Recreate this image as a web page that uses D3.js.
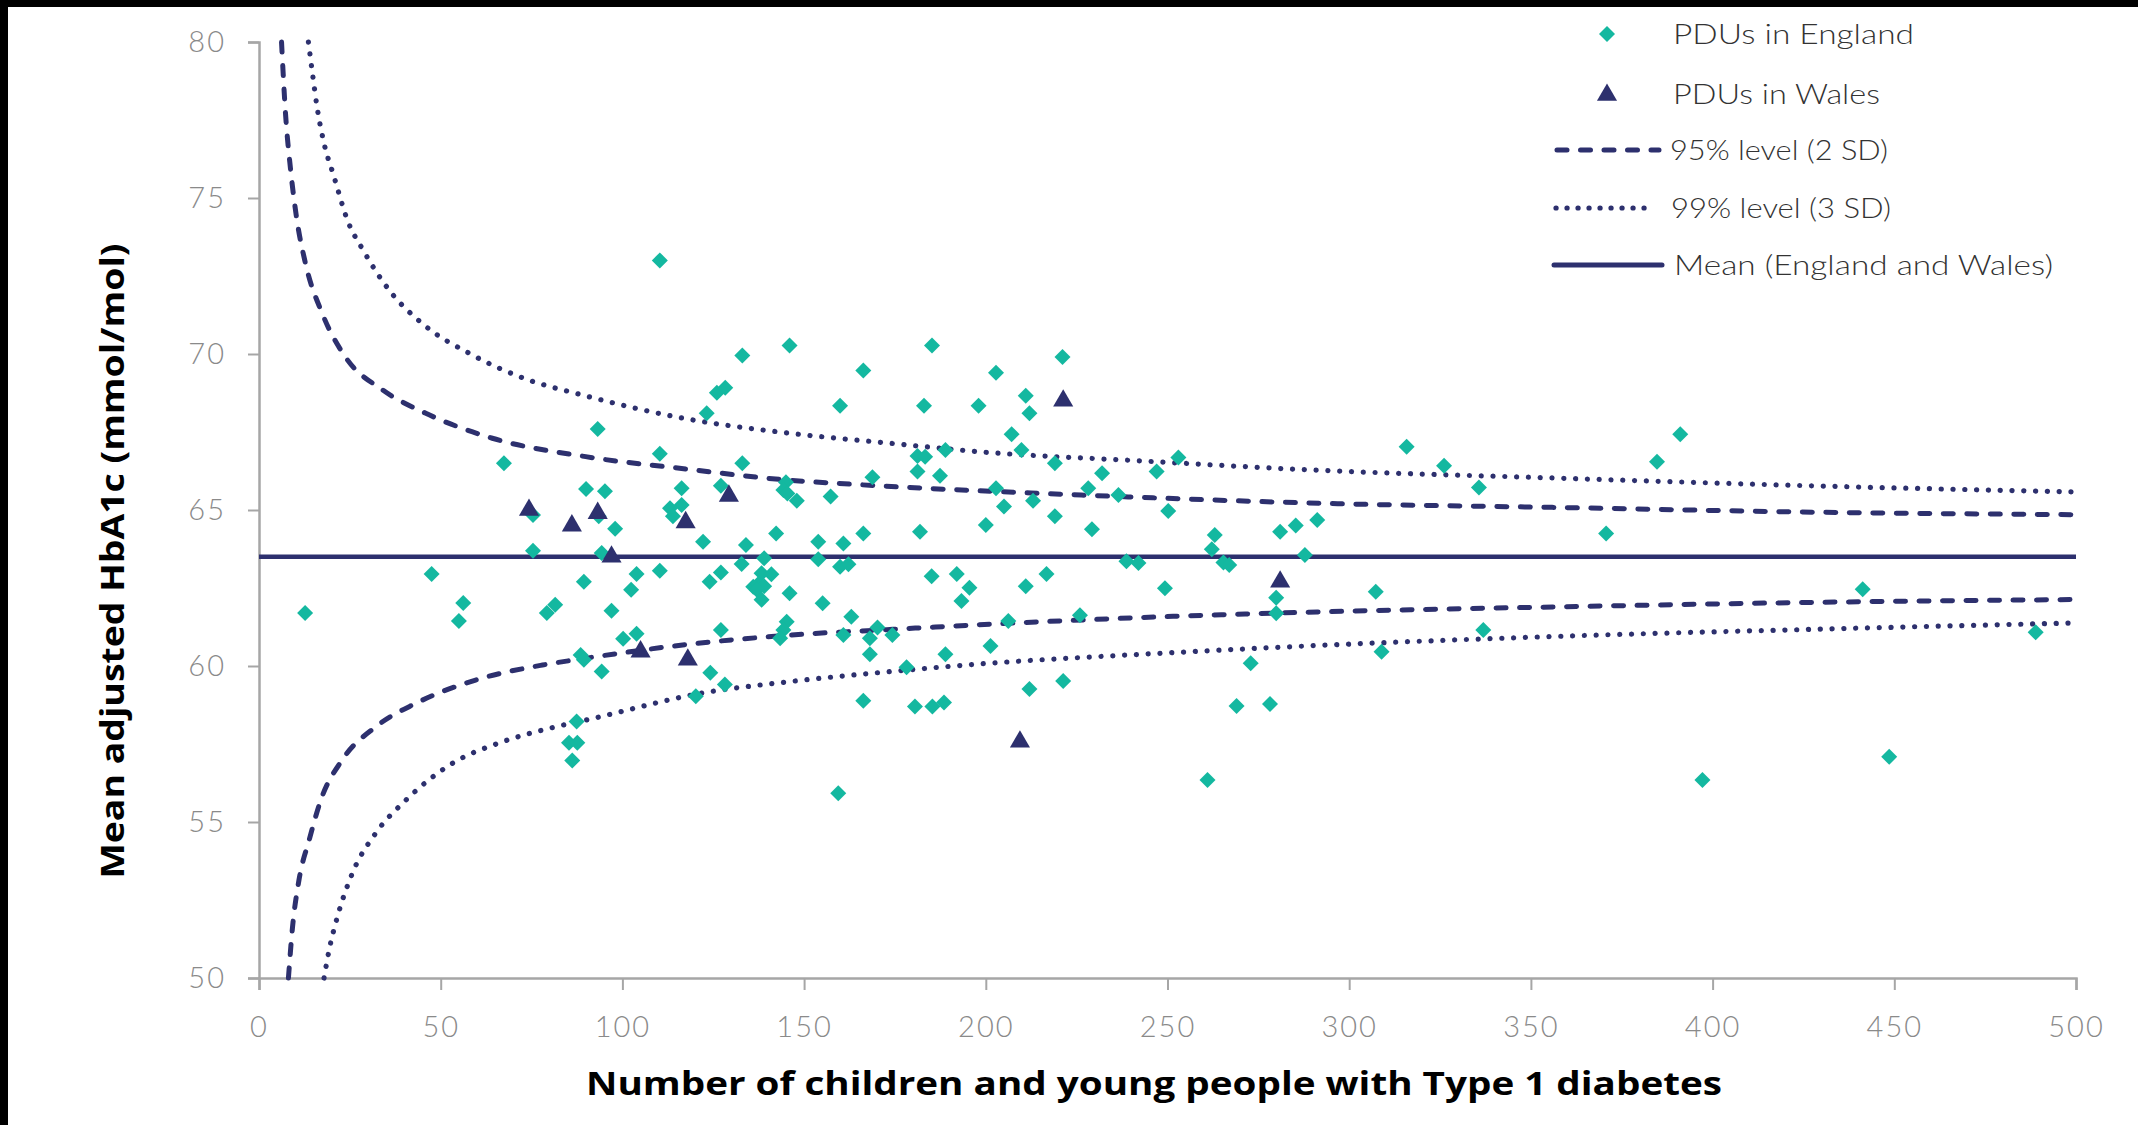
<!DOCTYPE html>
<html>
<head>
<meta charset="utf-8">
<script src="https://cdn.jsdelivr.net/npm/d3@7"></script>
<style>
  html, body { margin: 0; padding: 0; background: #ffffff; }
  svg { display: block; }
</style>
</head>
<body>
<svg id="chart" width="2138" height="1125"></svg>
<script>
// ---------------- DATA ----------------
const xTicks = [0, 50, 100, 150, 200, 250, 300, 350, 400, 450, 500];
const yTicks = [50, 55, 60, 65, 70, 75, 80];
const xTitle = "Number of children and young people with Type 1 diabetes";
const yTitle = "Mean adjusted HbA1c (mmol/mol)";
const legendLabels = ["PDUs in England", "PDUs in Wales", "95% level (2 SD)", "99% level (3 SD)", "Mean (England and Wales)"];

const meanValue = [63.5];

const englandX = [110.3, 93.2, 110.3, 67.4, 90, 95.2, 116.3, 116.3, 113.1, 113.9, 123.2, 75.4, 93.5, 98,
  122.2, 75.4, 94.3, 47.5, 89.4, 103.9, 110.3, 102.4, 124, 12.7, 56.2, 55, 79.2, 81.5, 97, 100.2, 103.9,
  88.5, 89.4, 94.3, 124.2, 120.2, 87.4, 85.3, 87.6, 86.2,
  133, 146, 185.2, 221.1, 166.3, 202.8, 126, 128.3, 159.9, 183, 198, 211, 212, 207.1, 209.8, 181.2, 183.3,
  188.9, 219, 133, 181.2, 187.4, 168.8, 232, 127.1, 145, 144.3, 145.4, 148, 157.3, 202.8, 205, 213, 219,
  228.2, 236.5, 200, 229.2, 142.3, 166.3, 181.9,
  134, 153.9, 160.8, 132.8, 139, 153.9, 159.9, 162.2, 127.1, 138.3, 141, 136, 137.4, 139, 137, 138.3,
  146, 155.1, 185.1, 192, 195.5, 193.3, 211, 216.7, 238.7, 242, 163, 145.2, 127.1, 144.3, 143.4, 160.8,
  168.1, 170.2, 174.3, 206.2, 225.9, 168.1, 188.9, 201.3, 178.2, 128.2, 166.3, 180.5, 185.3, 188.5, 212,
  221.3, 159.4,
  250.2, 263, 262.2, 281, 285.3, 291.2, 287.8, 265.4, 267, 249.3, 279.9, 279.9, 307.3, 336.9, 308.9,
  272.9, 269, 278.2, 261, 253, 247, 315.8, 326.1, 335.7,
  391.1, 384.7, 370.7, 441.3, 488.9, 448.6, 397.2];
const englandY = [73.0, 67.6, 66.8, 66.5, 65.67, 65.6, 65.7, 65.16, 65.06, 64.8, 68.1, 64.84, 64.8, 64.4,
  63.98, 63.69, 63.62, 62.95, 62.7, 62.95, 63.05, 62.44, 62.7, 61.7, 62.02, 61.44, 61.7, 61.96, 61.77, 60.87, 61.03,
  60.35, 60.2, 59.82, 59.78, 59.03, 58.22, 57.54, 57.54, 56.97,
  69.95, 70.27, 70.27, 69.9, 69.47, 69.4, 68.76, 68.92, 68.34, 68.34, 68.34, 68.66, 68.1, 67.43, 66.92, 66.73, 66.71,
  66.92, 66.5, 66.5, 66.23, 66.1, 66.05, 66.18, 65.78, 65.89, 65.64, 65.53, 65.3, 65.43, 65.7, 65.11, 65.3, 64.8,
  65.7, 65.48, 64.52, 64.38, 64.25, 64.25, 64.3,
  63.88, 63.98, 63.93, 63.27, 63.45, 63.42, 63.18, 63.26, 63.0, 62.97, 62.94, 62.54, 62.63, 62.56, 62.44, 62.12,
  62.33, 62.01, 62.88, 62.95, 62.51, 62.08, 62.56, 62.95, 63.36, 63.3, 61.58, 61.42, 61.15, 61.15, 60.89, 60.99,
  60.89, 61.23, 60.99, 61.44, 61.63, 60.38, 60.38, 60.64, 59.96, 59.41, 58.89, 58.7, 58.7, 58.83, 59.26,
  59.52, 55.92,
  64.97, 64.2, 63.74, 64.3, 64.5, 64.68, 63.56, 63.32, 63.24, 62.49, 62.19, 61.69, 62.38, 61.15, 60.46,
  60.09, 58.72, 58.78, 56.35, 66.68, 66.23, 67.03, 66.42, 65.72,
  67.43, 66.55, 64.25, 62.46, 61.08, 57.09, 56.35];

const walesX = [74.3, 86.1, 93.2, 117.4, 129.3, 97, 105, 118, 221.3, 209.4, 281];
const walesY = [65.0, 64.5, 64.9, 64.6, 65.45, 63.5, 60.46, 60.2, 68.5, 57.57, 62.7];

const upper95X = [6.2, 7.3, 8.7, 10.3, 12.8, 17.4, 23.8, 34.0, 45.9, 64.2, 89.9, 118.6, 143.4, 162.6, 182.8, 207.6, 241.5, 293.8, 358, 428, 500];
const upper95Y = [80.0, 77.7, 75.9, 74.4, 72.9, 71.3, 69.9, 68.85, 68.1, 67.3, 66.71, 66.3, 65.98, 65.83, 65.7, 65.57, 65.41, 65.21, 65.08, 64.93, 64.85];
const lower95X = [8.1, 9.2, 11.0, 13.8, 17.0, 22.9, 32.1, 43.1, 59.6, 78, 88.3, 118.6, 146.1, 173.6, 201.2, 242, 293.8, 359.8, 428, 500];
const lower95Y = [50.0, 51.6, 53.14, 54.42, 55.7, 56.99, 58.05, 58.8, 59.55, 60.03, 60.22, 60.7, 60.99, 61.17, 61.34, 61.55, 61.74, 61.9, 62.04, 62.13];
const upper99X = [13.6, 14.7, 16.0, 17.9, 20.6, 24.3, 28.9, 35.8, 44.9, 58.7, 73.4, 88.5, 116.8, 146.1, 173.6, 201.2, 241.5, 290.1, 358, 429, 500];
const upper99Y = [80.0, 79.0, 77.9, 76.75, 75.7, 74.3, 73.28, 72.05, 70.98, 69.97, 69.2, 68.7, 67.94, 67.46, 67.14, 66.84, 66.58, 66.28, 66.02, 65.77, 65.58];
const lower99X = [17.9, 19.3, 21.6, 25.7, 32.1, 40.4, 53.2, 67.0, 81.6, 90.8, 122.3, 146.1, 173.6, 201.2, 242, 293.8, 359.8, 429, 500];
const lower99Y = [50.0, 50.9, 51.97, 53.36, 54.64, 55.7, 56.88, 57.57, 58.05, 58.29, 59.14, 59.5, 59.82, 60.09, 60.37, 60.67, 60.96, 61.18, 61.38];

// ---------------- CHART ----------------
const NAVY = "#2d306e";
const TEAL = "#14b8a0";
const AXIS = "#a6a6a6";
const TICKTXT = "#8a8a8a";

const svg = d3.select("#chart");
svg.append("rect").attr("width", 2138).attr("height", 1125).attr("fill", "#ffffff");
// black frame edges of the original screenshot
svg.append("rect").attr("x", 0).attr("y", 0).attr("width", 2138).attr("height", 7).attr("fill", "#000");
svg.append("rect").attr("x", 0).attr("y", 0).attr("width", 8).attr("height", 1125).attr("fill", "#000");

const x = d3.scaleLinear().domain([0, 500]).range([259, 2076]);
const y = d3.scaleLinear().domain([50, 80]).range([978, 42]);

// axes
const xAxis = svg.append("g").attr("transform", `translate(0,${y(50)})`)
  .call(d3.axisBottom(x).tickValues(xTicks).tickSize(12).tickPadding(26).tickFormat(d3.format("d")));
const yAxis = svg.append("g").attr("transform", `translate(${x(0)},0)`)
  .call(d3.axisLeft(y).tickValues(yTicks).tickSize(11).tickPadding(22).tickFormat(d3.format("d")));
[xAxis, yAxis].forEach(g => {
  g.select(".domain").attr("stroke", AXIS).attr("stroke-width", 2.5);
  g.selectAll(".tick line").attr("stroke", AXIS).attr("stroke-width", 2);
  g.selectAll(".tick text")
    .attr("fill", TICKTXT)
    .style("font-family", "Lato, 'Open Sans', sans-serif")
    .style("font-weight", 300)
    .style("font-size", "29px")
    .style("letter-spacing", "2px");
});

// control limit curves
const line = d3.line().x(d => x(d[0])).y(d => y(d[1])).curve(d3.curveMonotoneX);
const limits = [
  { xs: upper95X, ys: upper95Y, dash: "10,13.5", w: 5 },
  { xs: lower95X, ys: lower95Y, dash: "10,13.5", w: 5 },
  { xs: upper99X, ys: upper99Y, dash: "0.1,11.7", w: 5.2 },
  { xs: lower99X, ys: lower99Y, dash: "0.1,11.7", w: 5.2 }
];
limits.forEach(l => {
  svg.append("path")
    .datum(l.xs.map((v, i) => [v, l.ys[i]]))
    .attr("d", line)
    .attr("fill", "none")
    .attr("stroke", NAVY)
    .attr("stroke-width", l.w)
    .attr("stroke-linecap", "round")
    .attr("stroke-dasharray", l.dash);
});

// mean line
svg.append("line")
  .attr("x1", x(0)).attr("x2", x(500))
  .attr("y1", y(meanValue[0])).attr("y2", y(meanValue[0]))
  .attr("stroke", NAVY).attr("stroke-width", 4.5);

// points
const diamond = d3.symbol().type(d3.symbolSquare).size(128);
svg.append("g").selectAll("path")
  .data(englandX.map((v, i) => [v, englandY[i]]))
  .join("path")
  .attr("d", diamond)
  .attr("transform", d => `translate(${x(d[0])},${y(d[1])}) rotate(45)`)
  .attr("fill", TEAL);

const tri = d3.symbol().type(d3.symbolTriangle).size(175);
svg.append("g").selectAll("path")
  .data(walesX.map((v, i) => [v, walesY[i]]))
  .join("path")
  .attr("d", tri)
  .attr("transform", d => `translate(${x(d[0])},${y(d[1])})`)
  .attr("fill", NAVY);

// axis titles
svg.append("text")
  .attr("x", 1154).attr("y", 1095)
  .attr("text-anchor", "middle")
  .attr("textLength", 1136).attr("lengthAdjust", "spacingAndGlyphs")
  .style("font-family", "'Open Sans', Lato, sans-serif")
  .style("font-weight", 700).style("font-size", "32px").attr("fill", "#000")
  .text(xTitle);
svg.append("text")
  .attr("transform", "translate(124,561) rotate(-90)")
  .attr("text-anchor", "middle")
  .attr("textLength", 635).attr("lengthAdjust", "spacingAndGlyphs")
  .style("font-family", "'Open Sans', Lato, sans-serif")
  .style("font-weight", 700).style("font-size", "33px").attr("fill", "#000")
  .text(yTitle);

// legend
const legendRows = [34, 94, 150, 208, 265];
const legendTextX = [1673, 1673, 1670, 1671, 1674];
const legendTextW = [241, 207, 218, 220, 379];
const lg = svg.append("g");
lg.append("path").attr("d", diamond).attr("transform", `translate(1607,${legendRows[0]}) rotate(45)`).attr("fill", TEAL);
lg.append("path").attr("d", tri).attr("transform", `translate(1607,${legendRows[1] + 1})`).attr("fill", NAVY);
lg.append("line").attr("x1", 1557).attr("x2", 1659).attr("y1", legendRows[2]).attr("y2", legendRows[2])
  .attr("stroke", NAVY).attr("stroke-width", 5).attr("stroke-linecap", "round").attr("stroke-dasharray", "10,13.5");
lg.append("line").attr("x1", 1556).attr("x2", 1654).attr("y1", legendRows[3]).attr("y2", legendRows[3])
  .attr("stroke", NAVY).attr("stroke-width", 5.2).attr("stroke-linecap", "round").attr("stroke-dasharray", "0.1,10.9");
lg.append("line").attr("x1", 1554).attr("x2", 1662).attr("y1", legendRows[4]).attr("y2", legendRows[4])
  .attr("stroke", NAVY).attr("stroke-width", 5).attr("stroke-linecap", "round");
legendLabels.forEach((t, i) => {
  lg.append("text")
    .attr("x", legendTextX[i]).attr("y", legendRows[i])
    .attr("dy", "0.35em")
    .attr("textLength", legendTextW[i]).attr("lengthAdjust", "spacingAndGlyphs")
    .style("font-family", "Lato, 'Open Sans', sans-serif")
    .style("font-weight", 300).style("font-size", "28px").attr("fill", "#333")
    .text(t);
});
</script>
</body>
</html>
